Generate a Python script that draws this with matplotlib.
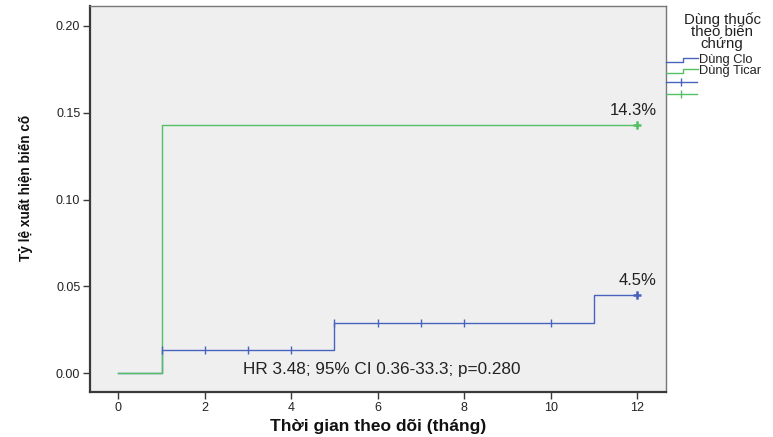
import matplotlib
matplotlib.use("Agg")
import matplotlib.pyplot as plt
from matplotlib.lines import Line2D
import numpy as np

plt.rcParams["font.family"] = ["Liberation Sans", "DejaVu Sans"]

# Cumulative incidence of complications by treatment group (months of follow-up)
clo_times = [0, 1, 5, 11, 12]
clo_incidence = [0.0, 0.0135, 0.029, 0.045, 0.045]
clo_censored = [1, 2, 3, 4, 5, 6, 7, 8, 10, 12]

ticar_times = [0, 1, 12]
ticar_incidence = [0.0, 0.143, 0.143]
ticar_censored = [12]

group_labels = ["Dùng Clo", "Dùng Ticar"]
legend_title = ["Dùng thuốc", "theo biến", "chứng"]
end_labels = ["4.5%", "14.3%"]
x_ticks = [0, 2, 4, 6, 8, 10, 12]
y_ticks = [0.00, 0.05, 0.10, 0.15, 0.20]
stats_text = "HR 3.48; 95% CI 0.36-33.3; p=0.280"

BLUE = "#4863bd"
GREEN = "#52c063"
AX_COLOR = "#3a3a3a"

W, H = 773, 437
fig = plt.figure(figsize=(W / 100, H / 100), dpi=100)
fig.patch.set_facecolor("white")


def fx(px):
    return px / W


def fy(py):
    return 1 - py / H


ax = fig.add_axes([fx(90), fy(392), fx(666) - fx(90), fy(6) - fy(392)])
ax.set_facecolor("#efefef")


def level_at(times, values, t):
    i = np.searchsorted(times, t, side="right") - 1
    return values[i]


for times, vals, cens, color, lab in [
    (clo_times, clo_incidence, clo_censored, BLUE, end_labels[0]),
    (ticar_times, ticar_incidence, ticar_censored, GREEN, end_labels[1]),
]:
    ax.step(times, vals, where="post", color=color, lw=1.0, zorder=3)
    cy = [level_at(times, vals, t) for t in cens]
    ax.plot(cens, cy, ls="none", marker="|", ms=6, mew=1.0, color=color, zorder=4)
    # heavier mark at the final censoring time
    ax.plot([cens[-1]], [cy[-1]], ls="none", marker="+", ms=6, mew=1.8,
            color=color, zorder=4)
    ax.text(12.45, vals[-1] + 0.0085, lab, ha="right", va="center",
            fontsize=12, color="#222222")

ax.text(2.88, 0.002, stats_text, ha="left", va="center", fontsize=12.3,
        color="#222222")

ax.set_xlim(-0.655, 12.67)
ax.set_ylim(-0.0108, 0.2115)
ax.set_xticks(x_ticks)
ax.set_yticks(y_ticks)
ax.set_xticklabels([str(t) for t in x_ticks])
ax.set_yticklabels([f"{v:.2f}" for v in y_ticks])
ax.tick_params(axis="both", direction="out", length=5, width=1.0,
               colors=AX_COLOR, labelsize=9, labelcolor="#222222", pad=2)

for side in ["left", "bottom", "right", "top"]:
    ax.spines[side].set_color(AX_COLOR if side in ("left", "bottom") else "#777777")
    ax.spines[side].set_linewidth(1.6 if side in ("left", "bottom") else 1.0)

ax.set_xlabel("Thời gian theo dõi (tháng)", fontsize=12.5, fontweight="bold",
              color="#111111", va="center")
ax.xaxis.set_label_coords(0.5, (392 - 426) / 386)
ax.set_ylabel("Tỷ lệ xuất hiện biến cố", fontsize=9.8, fontweight="bold",
              color="#111111", va="center")
ax.yaxis.set_label_coords((26 - 90) / 576, (392 - 188) / 386)

# Legend drawn beside the plot area
fig.text(fx(722), fy(31.5), "\n".join(legend_title), ha="center",
         va="center", fontsize=10.8, linespacing=0.84, color="#222222")

tf = fig.transFigure
for color, ypx, lab in [(BLUE, 60, group_labels[0]), (GREEN, 71, group_labels[1])]:
    xs = [fx(666), fx(683), fx(683), fx(698)]
    ys = [fy(ypx + 1.5), fy(ypx + 1.5), fy(ypx - 2), fy(ypx - 2)]
    fig.add_artist(Line2D(xs, ys, color=color, lw=1.0, transform=tf))
    fig.text(fx(699), fy(ypx), lab, ha="left", va="center", fontsize=9.3,
             color="#222222")

for color, ypx in [(BLUE, 82), (GREEN, 94)]:
    fig.add_artist(Line2D([fx(666), fx(697)], [fy(ypx), fy(ypx)], color=color,
                          lw=1.0, transform=tf))
    fig.add_artist(Line2D([fx(681)], [fy(ypx)], color=color, ls="none",
                          marker="|", ms=6, mew=1.0, transform=tf))

fig.savefig("out.png", dpi=100)
